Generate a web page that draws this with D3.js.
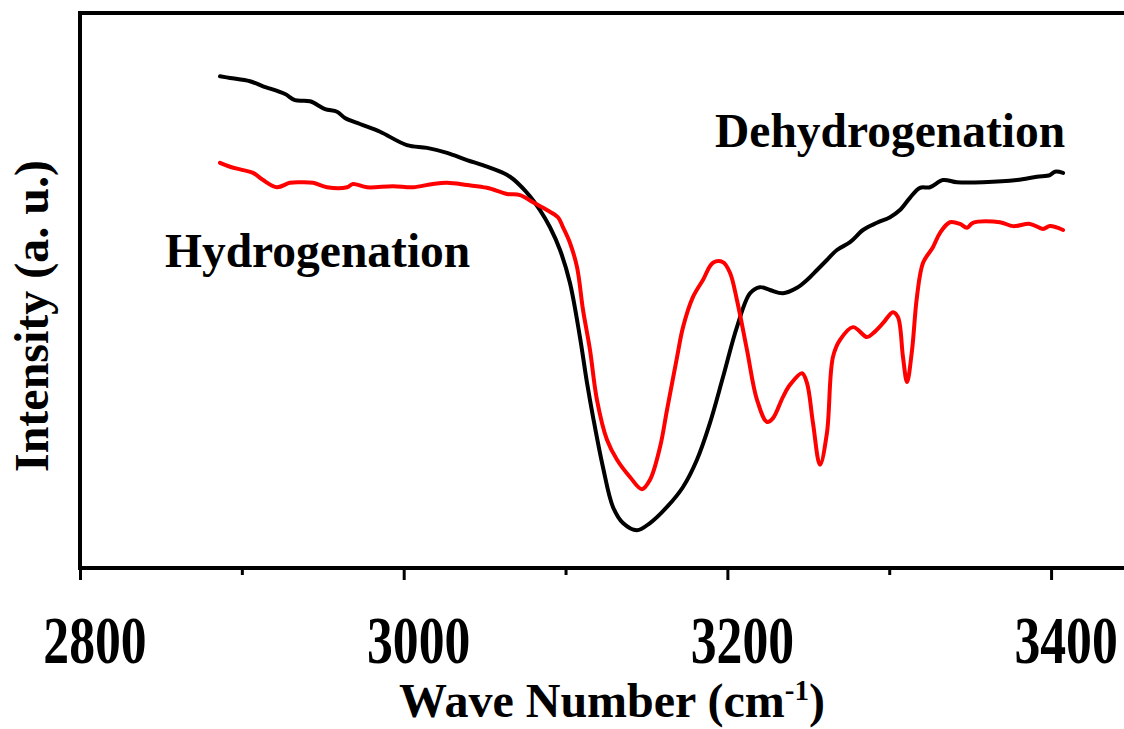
<!DOCTYPE html>
<html>
<head>
<meta charset="utf-8">
<script src="https://cdn.jsdelivr.net/npm/d3@7"></script>
<style>
  html, body { margin: 0; padding: 0; background: #fff; }
  svg { display: block; }
  text { font-family: "Liberation Serif", "Times New Roman", serif; font-weight: bold; fill: #000; }
</style>
</head>
<body>
<svg id="chart" width="1124" height="729"></svg>
<script>
// FTIR spectra, N–H stretching region: [wave number (cm^-1), intensity (a. u.)]
const dehydrogenation = [
  [2886.5, 88.6], [2892.7, 88.3], [2905.0, 87.7], [2913.1, 86.8], [2926.7, 85.4],
  [2932.8, 84.3], [2942.1, 84.1], [2951.4, 82.7], [2958.8, 82.2], [2963.7, 81.1],
  [2973.0, 80.0], [2985.4, 78.6], [3002.0, 76.2], [3014.4, 75.7], [3026.8, 74.8],
  [3039.1, 73.5], [3051.5, 72.3], [3065.7, 70.5], [3076.2, 67.6], [3084.2, 64.5],
  [3090.4, 61.4], [3096.6, 57.3], [3102.7, 51.4], [3108.9, 41.6], [3113.3, 33.3],
  [3117.0, 27.2], [3123.1, 18.2], [3129.3, 11.0], [3135.5, 8.1], [3144.1, 6.8],
  [3152.2, 8.1], [3162.7, 11.0], [3172.6, 14.6], [3181.2, 19.5], [3189.2, 26.1],
  [3197.3, 34.4], [3205.9, 43.4], [3214.0, 49.5], [3220.1, 50.6], [3226.3, 50.1],
  [3234.3, 49.5], [3243.0, 50.5], [3249.2, 51.9], [3255.4, 53.7], [3261.5, 55.5],
  [3267.7, 57.3], [3275.8, 58.7], [3283.8, 60.9], [3292.4, 62.2], [3300.5, 63.2],
  [3306.6, 64.5], [3312.8, 66.7], [3319.0, 68.5], [3325.2, 68.6], [3333.2, 69.9],
  [3341.9, 69.5], [3357.9, 69.5], [3378.9, 69.9], [3391.3, 70.5], [3399.3, 70.8],
  [3402.4, 71.4], [3407.4, 71.2]
];

const hydrogenation = [
  [2886.5, 73.0], [2892.7, 72.3], [2900.7, 71.7], [2906.9, 71.2], [2913.1, 69.9],
  [2921.7, 68.6], [2929.7, 69.4], [2935.9, 69.5], [2944.0, 69.4], [2952.6, 68.6],
  [2965.0, 68.6], [2968.7, 69.2], [2977.3, 68.6], [2993.4, 68.8], [3005.7, 68.6],
  [3018.1, 69.2], [3026.8, 69.4], [3039.1, 69.0], [3051.5, 68.5], [3063.8, 67.4],
  [3071.9, 67.2], [3079.9, 65.9], [3088.5, 64.5], [3095.3, 63.2], [3098.4, 61.4],
  [3102.7, 58.6], [3107.1, 54.2], [3110.8, 46.5], [3115.1, 39.3], [3119.4, 30.3],
  [3125.6, 23.1], [3131.8, 19.5], [3139.8, 16.4], [3147.2, 14.2], [3152.2, 15.9],
  [3158.4, 21.8], [3162.7, 28.5], [3168.9, 38.0], [3172.6, 43.4], [3178.7, 48.8],
  [3184.9, 51.9], [3191.1, 55.0], [3197.3, 55.1], [3201.6, 53.2], [3205.9, 48.3],
  [3212.1, 39.3], [3218.3, 30.3], [3224.5, 26.3], [3228.2, 27.0], [3234.3, 30.8],
  [3238.7, 33.0], [3246.1, 35.1], [3249.2, 33.3], [3252.9, 26.1], [3257.2, 18.6],
  [3261.5, 24.3], [3265.2, 38.0], [3269.6, 41.1], [3277.6, 43.4], [3286.3, 41.6],
  [3290.0, 42.3], [3296.1, 44.1], [3302.3, 46.1], [3305.4, 45.2], [3308.5, 38.0],
  [3311.0, 33.5], [3314.1, 39.3], [3317.1, 48.8], [3320.9, 55.0], [3327.0, 57.8],
  [3331.4, 60.4], [3337.5, 62.3], [3343.7, 62.0], [3348.0, 61.3], [3351.7, 62.2],
  [3368.4, 62.3], [3376.5, 61.6], [3387.0, 62.0], [3395.0, 61.1], [3399.3, 61.6],
  [3407.4, 60.9]
];

const majorTicks = [2800, 3000, 3200, 3400];
const minorTicks = [2900, 3100, 3300];
const seriesLabels = ["Hydrogenation", "Dehydrogenation"];
const xTitle = "Wave Number (cm";
const xTitleSup = "-1";
const yTitle = "Intensity (a. u.)";

const svg = d3.select("#chart");
const margin = { left: 80, top: 13, bottom: 568 };

const x = d3.scaleLinear().domain([2800, 3450]).range([margin.left, 1132]);
const y = d3.scaleLinear().domain([0, 100]).range([margin.bottom, margin.top]);

// plot frame (right edge falls outside the canvas)
svg.append("rect")
  .attr("x", x(2800)).attr("y", y(100))
  .attr("width", x(3450) - x(2800)).attr("height", y(0) - y(100))
  .attr("fill", "none").attr("stroke", "#000").attr("stroke-width", 4);

// x axis ticks
const axis = svg.append("g").attr("transform", `translate(0,${y(0)})`);
axis.call(d3.axisBottom(x).tickValues(majorTicks).tickSize(12).tickFormat(""))
  .call(g => g.select(".domain").remove())
  .call(g => g.selectAll(".tick line").attr("stroke", "#000").attr("stroke-width", 3));
axis.append("g")
  .call(d3.axisBottom(x).tickValues(minorTicks).tickSize(7).tickFormat(""))
  .call(g => g.select(".domain").remove())
  .call(g => g.selectAll(".tick line").attr("stroke", "#000").attr("stroke-width", 3));

// tick labels (condensed bold serif)
svg.append("g").selectAll("text")
  .data(majorTicks)
  .join("text")
  .attr("transform", d => `translate(${x(d) + 15},663) scale(0.76,1)`)
  .attr("text-anchor", "middle")
  .attr("font-size", 68)
  .text(d => d);

// spectra
const line = d3.line()
  .x(d => x(d[0]))
  .y(d => y(d[1]))
  .curve(d3.curveCatmullRom.alpha(0.5));

svg.append("path").datum(dehydrogenation)
  .attr("d", line).attr("fill", "none")
  .attr("stroke", "#000").attr("stroke-width", 4)
  .attr("stroke-linejoin", "round").attr("stroke-linecap", "round");

svg.append("path").datum(hydrogenation)
  .attr("d", line).attr("fill", "none")
  .attr("stroke", "#ff0000").attr("stroke-width", 4)
  .attr("stroke-linejoin", "round").attr("stroke-linecap", "round");

// series labels
svg.append("text").attr("x", 165).attr("y", 267)
  .attr("font-size", 47.5).text(seriesLabels[0]);
svg.append("text").attr("x", 715).attr("y", 147)
  .attr("font-size", 47.5).text(seriesLabels[1]);

// axis titles
const xt = svg.append("text")
  .attr("x", 612).attr("y", 717)
  .attr("text-anchor", "middle")
  .attr("font-size", 48);
xt.append("tspan").text(xTitle);
xt.append("tspan").attr("font-size", 29).attr("dy", -17).text(xTitleSup);
xt.append("tspan").attr("dy", 17).text(")");

svg.append("text")
  .attr("transform", "translate(48,316) rotate(-90)")
  .attr("text-anchor", "middle")
  .attr("font-size", 48)
  .text(yTitle);
</script>
</body>
</html>
